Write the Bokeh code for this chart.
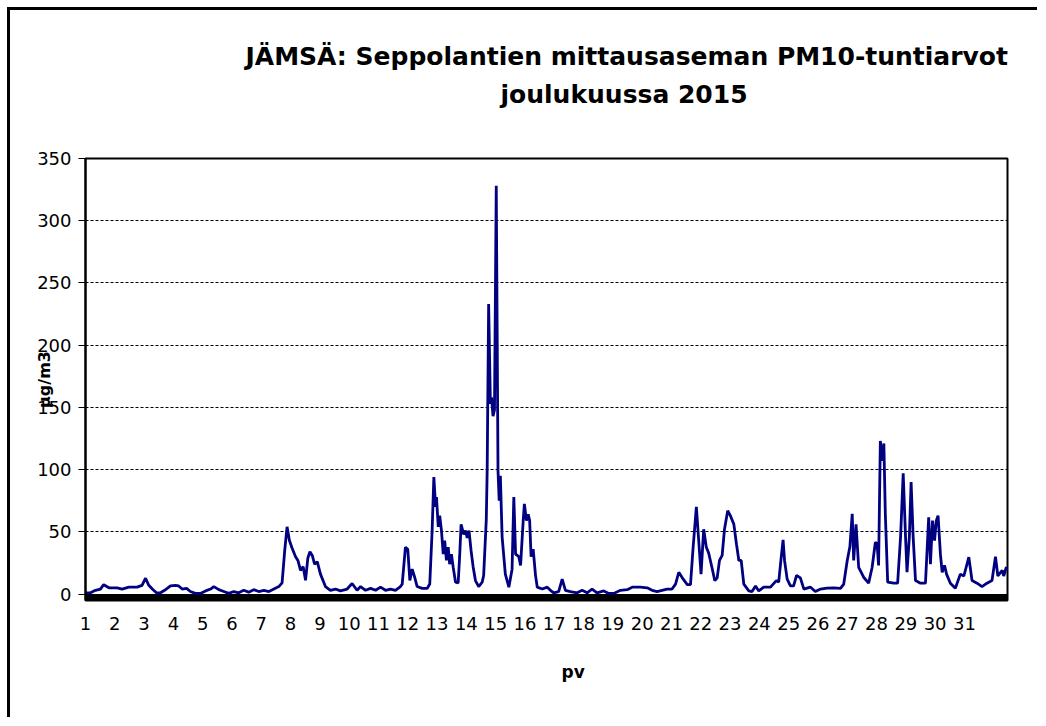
from bokeh.plotting import figure
from bokeh.models import Range1d, FixedTicker, BoxAnnotation, Title
from bokeh.embed import file_html
from bokeh.resources import INLINE

title_lines = ["JÄMSÄ: Seppolantien mittausaseman PM10-tuntiarvot", "joulukuussa 2015"]
x_title = "pv"
y_title = "µg/m3"
day_ticks = list(range(1, 32))
y_ticks = list(range(0, 351, 50))

# time of measurement, in days of December 2015 (axis scale)
days = [1.00, 1.17, 1.34, 1.51, 1.62, 1.80, 2.08, 2.25, 2.48, 2.76, 2.93, 3.05, 3.16, 3.28, 3.42, 3.56, 3.70, 3.90,
        4.07, 4.18, 4.30, 4.45, 4.58, 4.75, 4.92, 5.10, 5.27, 5.38, 5.55, 5.72, 5.89, 6.06, 6.23, 6.40, 6.57, 6.74,
        6.91, 7.09, 7.26, 7.43, 7.60, 7.71, 7.80, 7.88, 7.96, 8.05, 8.17, 8.25, 8.34, 8.43, 8.51, 8.59, 8.66, 8.74,
        8.82, 8.91, 9.02, 9.19, 9.36, 9.53, 9.70, 9.93, 10.10, 10.27, 10.39, 10.56, 10.73, 10.90, 11.07, 11.24,
        11.41, 11.58, 11.75, 11.81, 11.92, 12.00, 12.07, 12.15, 12.23, 12.32, 12.49, 12.66, 12.75, 12.83, 12.89,
        12.95, 12.98, 13.04, 13.09, 13.15, 13.21, 13.26, 13.32, 13.38, 13.43, 13.49, 13.55, 13.63, 13.72, 13.77,
        13.82, 13.91, 13.97, 14.03, 14.09, 14.16, 14.23, 14.31, 14.42, 14.54, 14.59, 14.68, 14.71, 14.76, 14.82,
        14.86, 14.91, 14.96, 15.02, 15.08, 15.12, 15.16, 15.22, 15.33, 15.45, 15.56, 15.62, 15.68, 15.79, 15.85,
        15.94, 15.98, 16.05, 16.11, 16.16, 16.21, 16.28, 16.36, 16.42, 16.59, 16.76, 16.87, 16.98, 17.15, 17.27,
        17.38, 17.55, 17.78, 17.95, 18.12, 18.29, 18.46, 18.69, 18.86, 19.03, 19.26, 19.49, 19.66, 19.94, 20.17,
        20.34, 20.51, 20.68, 20.85, 21.02, 21.14, 21.25, 21.37, 21.54, 21.65, 21.74, 21.85, 21.93, 22.01, 22.10,
        22.19, 22.27, 22.38, 22.48, 22.56, 22.64, 22.73, 22.81, 22.92, 23.01, 23.13, 23.22, 23.30, 23.38, 23.47,
        23.64, 23.75, 23.87, 23.98, 24.15, 24.38, 24.58, 24.66, 24.74, 24.81, 24.86, 24.95, 25.06, 25.17, 25.27,
        25.40, 25.52, 25.74, 25.91, 26.09, 26.31, 26.54, 26.77, 26.88, 27.00, 27.09, 27.17, 27.22, 27.30, 27.39,
        27.56, 27.73, 27.85, 27.96, 28.02, 28.07, 28.13, 28.19, 28.25, 28.30, 28.38, 28.59, 28.72, 28.82, 28.91,
        28.99, 29.04, 29.12, 29.18, 29.25, 29.33, 29.50, 29.67, 29.73, 29.78, 29.84, 29.91, 29.98, 30.04, 30.10,
        30.18, 30.24, 30.32, 30.39, 30.52, 30.69, 30.86, 30.98, 31.15, 31.26, 31.43, 31.60, 31.77, 31.94, 32.06,
        32.14, 32.29, 32.34, 32.43, 32.47]

# PM10 hourly values, µg/m3
pm10 = [1, 1, 3, 4, 7.5, 5, 5, 4, 5.5, 5.5, 7, 12.7, 7, 4, 1, 1, 3, 6.5,
        7, 6.5, 4, 4.5, 2, 0.5, 0.5, 2.5, 4, 6, 3.5, 2, 0.5, 2, 1, 3, 1.5, 3.5,
        2, 3, 2, 4, 6, 9, 35, 54, 43, 37, 30, 27, 19, 22, 11, 29, 34, 31,
        24, 26, 16, 6, 3, 4, 2.5, 4, 8.5, 3, 6, 3, 4.5, 3, 5.5, 3,
        4, 3, 6, 8, 37.6, 36, 11, 20, 14, 6, 4.5, 4.5, 8, 50, 94,
        70, 78, 54, 63, 51, 32, 43, 27, 37.6, 24, 32, 21.5, 9.5, 9, 30,
        56, 48, 51, 45, 51, 35, 22, 10.8, 6, 9.5, 15, 60, 99, 233, 153,
        158, 143, 148, 328, 99, 75, 95, 46, 16, 5.5, 20, 78, 32, 30, 23,
        59, 72.5, 59, 64, 59, 30, 36, 15, 5.5, 4, 5.5, 3, 1, 2, 12,
        3, 2, 1, 3, 1, 4, 1, 2.5, 0.5, 0.5, 3, 3.5, 5.5, 5.5, 5,
        3, 2, 3, 4, 4, 8, 17.5, 13, 7.6, 7.6, 37.6, 70, 43, 16, 52,
        37.6, 33, 21.5, 10.8, 13, 27, 31, 52, 67, 63, 56, 40, 27, 27, 8,
        2.5, 2, 6.5, 2.5, 5.5, 5.5, 10.8, 9.5, 28, 43.5, 27, 12, 6.5, 6.5, 15,
        13, 4, 5.6, 2, 4, 4.7, 5, 4.5, 8, 27, 38, 64.5, 27, 56, 21.5,
        13.5, 8.7, 21.5, 41.6, 40, 23, 123, 107, 121, 64.5, 9.5, 8.7, 8.7, 45.7, 97,
        45.7, 17.5, 45.7, 90, 45.7, 10.8, 8.7, 8.7, 37.6, 61.7, 24, 59, 43, 59, 63,
        32, 17.5, 23, 16, 8.7, 4.7, 16, 14.5, 29.6, 10.8, 8.7, 6, 8.7, 10.8, 30,
        14.5, 19, 14.5, 21.5, 20]

FONT = "DejaVu Sans"

p = figure(width=1030, height=710, output_backend="svg", toolbar_location=None,
           x_range=Range1d(1.0, 32.47), y_range=Range1d(-5.2, 350),
           min_border_left=75, min_border_right=33, min_border_top=148, min_border_bottom=120,
           background_fill_color="white", border_fill_color="white")
p.styles = {"border-left": "3px solid black", "border-top": "3px solid black",
            "margin-left": "7px", "margin-top": "7px"}

p.outline_line_color = "black"
p.outline_line_width = 2

# y axis
p.yaxis.ticker = FixedTicker(ticks=y_ticks)
p.yaxis.major_label_text_font = FONT
p.yaxis.major_label_text_font_size = "18px"
p.yaxis.major_label_text_color = "black"
p.yaxis.major_tick_out = 7
p.yaxis.major_tick_in = 0
p.yaxis.minor_tick_line_color = None
p.yaxis.axis_line_width = 2
p.yaxis.axis_line_color = "black"
p.yaxis.major_tick_line_color = "black"
p.yaxis.major_label_standoff = 7
p.yaxis.axis_label = y_title
p.yaxis.axis_label_text_font = FONT
p.yaxis.axis_label_text_font_style = "bold"
p.yaxis.axis_label_text_font_size = "16px"
p.yaxis.axis_label_text_color = "black"
p.yaxis.axis_label_standoff = -20

# x axis
p.xaxis.ticker = FixedTicker(ticks=day_ticks)
p.xaxis.major_label_text_font = FONT
p.xaxis.major_label_text_font_size = "18px"
p.xaxis.major_label_text_color = "black"
p.xaxis.axis_line_color = None
p.xaxis.major_tick_line_color = None
p.xaxis.minor_tick_line_color = None
p.xaxis.major_label_standoff = 10

p.xgrid.visible = False
p.ygrid.ticker = FixedTicker(ticks=y_ticks)
p.ygrid.grid_line_color = "black"
p.ygrid.grid_line_dash = "3 2"
p.ygrid.grid_line_width = 1

# thick base bar below zero
p.add_layout(BoxAnnotation(top=0, fill_color="black", fill_alpha=1.0, line_color=None, level="underlay"))

p.line(days, pm10, line_color="#000080", line_width=2.8)

# two-line title (second line added first: it sits closest to the frame)
p.add_layout(Title(text=title_lines[1], text_font=FONT, text_font_style="bold", text_font_size="25px",
                   text_color="black", align="left", offset=415, standoff=100), "above")
p.add_layout(Title(text=title_lines[0], text_font=FONT, text_font_style="bold", text_font_size="25px",
                   text_color="black", align="left", offset=160, standoff=-86), "above")

p.add_layout(Title(text=x_title, text_font=FONT, text_font_style="bold", text_font_size="17px",
                   text_color="black", align="left", offset=476, standoff=58, vertical_align="top"), "below")

open("out.html", "w").write(file_html(p, INLINE))
